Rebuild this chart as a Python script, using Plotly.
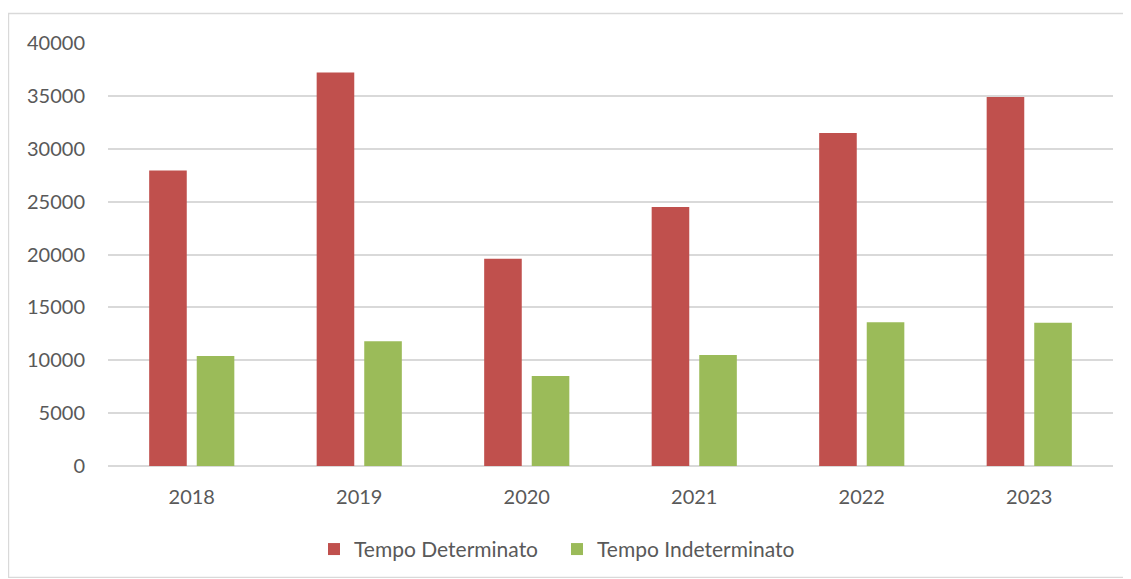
import plotly.graph_objects as go

years = ["2018", "2019", "2020", "2021", "2022", "2023"]
determinato = [27950, 37200, 19600, 24500, 31500, 34900]
indeterminato = [10400, 11800, 8500, 10500, 13600, 13550]
series_names = ["Tempo Determinato", "Tempo Indeterminato"]
y_ticks = [0, 5000, 10000, 15000, 20000, 25000, 30000, 35000, 40000]

RED = "#C0504D"
GREEN = "#9BBB59"
TXT = "#595959"
FONT = "Lato, 'Open Sans', sans-serif"

fig = go.Figure()
fig.add_trace(go.Bar(x=years, y=determinato, name=series_names[0],
                     marker=dict(color=RED, line=dict(width=0))))
fig.add_trace(go.Bar(x=years, y=indeterminato, name=series_names[1],
                     marker=dict(color=GREEN, line=dict(width=0))))

# page has an 8px body margin, so the figure is placed at page (8, 8)
OFF = 8
W, H = 1131 - OFF, 579 - OFF
ml, mr, mt = 108 - OFF, 18, 43 - OFF
mb = H - (466.5 - OFF)   # plot bottom at page y 466.5
pw = W - ml - mr
ph = H - mt - mb

def px(x):  # page x -> paper
    return (x - OFF - ml) / pw

def py(y):  # page y -> paper
    return (H - mb - (y - OFF)) / ph

fig.update_layout(
    width=W, height=H,
    margin=dict(l=ml, r=mr, t=mt, b=mb, pad=0, autoexpand=False),
    paper_bgcolor="white", plot_bgcolor="white",
    barmode="group", bargap=0.432, bargroupgap=0.21,
    font=dict(family=FONT, size=20, color=TXT),
    showlegend=True,
    legend=dict(orientation="h", x=px(314), xanchor="left", y=py(550), yanchor="middle",
                font=dict(family=FONT, size=21, color=TXT), itemwidth=30,
                entrywidth=198,
                itemsizing="constant", traceorder="normal"),
    xaxis=dict(showgrid=False, showline=False, ticks="", tickfont=dict(size=20, color=TXT),
               ticklabelstandoff=17),
    yaxis=dict(range=[0, 40000], tickvals=y_ticks, ticktext=[str(v) for v in y_ticks],
               showgrid=True, gridcolor="#D9D9D9", gridwidth=2,
               zeroline=True, zerolinecolor="#D9D9D9", zerolinewidth=2,
               showline=False, ticks="", tickfont=dict(size=20, color=TXT),
               ticklabelstandoff=22),
    shapes=[dict(type="rect", xref="paper", yref="paper",
                 x0=px(8.5), x1=px(1130), y0=py(578), y1=py(13.5),
                 line=dict(color="#D9D9D9", width=1.4), fillcolor="rgba(0,0,0,0)",
                 layer="below")],
)

fig.write_html("out.html")
